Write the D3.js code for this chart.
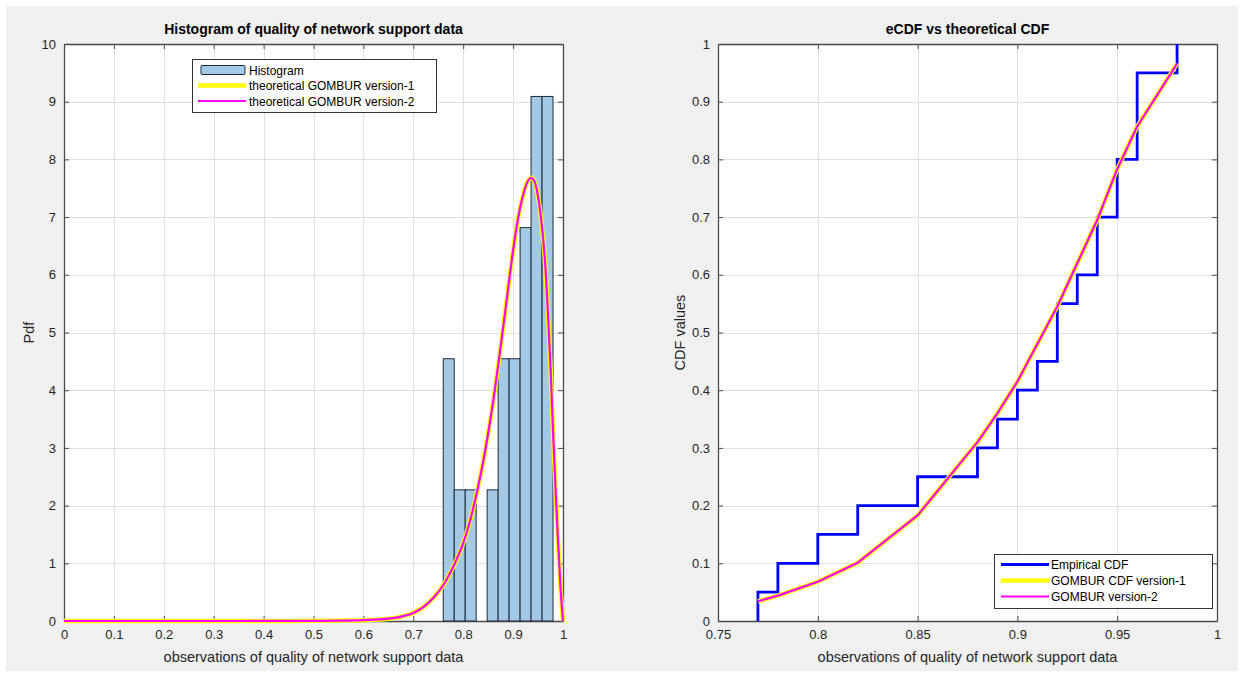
<!DOCTYPE html>
<html>
<head>
<meta charset="utf-8">
<script src="https://cdn.jsdelivr.net/npm/d3@7"></script>
<style>
  html, body { margin: 0; padding: 0; background: #ffffff; }
  svg { display: block; font-family: "Liberation Sans", Arial, Helvetica, sans-serif; }
</style>
</head>
<body>
<svg id="fig" width="1244" height="675"></svg>
<script>
// ---- Histogram panel data ----
const binEdges = [0.76, 0.782, 0.804, 0.826, 0.848, 0.87, 0.892, 0.914, 0.936, 0.958, 0.98];
const binDensity = [4.545, 2.273, 2.273, 0, 2.273, 4.545, 4.545, 6.818, 9.091, 9.091];

// fitted GOMBUR density, sampled along x
const pdfX = [0, 0.1, 0.2, 0.3, 0.4, 0.5, 0.55, 0.6, 0.65, 0.68, 0.7, 0.72, 0.74, 0.76, 0.77, 0.78, 0.79, 0.8,
              0.81, 0.82, 0.83, 0.84, 0.85, 0.86, 0.87, 0.88, 0.89, 0.9, 0.91, 0.92, 0.93, 0.937, 0.945,
              0.95, 0.955, 0.96, 0.965, 0.97, 0.975, 0.98, 0.985, 0.99, 0.995, 1.0];
const pdfY = [0, 0, 0, 0, 0.001, 0.003, 0.006, 0.015, 0.04, 0.085, 0.14, 0.24, 0.4, 0.62, 0.77, 0.94, 1.13, 1.35,
              1.62, 1.95, 2.33, 2.76, 3.25, 3.8, 4.42, 5.08, 5.76, 6.42, 6.98, 7.38, 7.63, 7.68, 7.56,
              7.36, 7.05, 6.65, 6.1, 5.3, 4.4, 3.3, 2.3, 1.4, 0.6, 0];

const pdfXTicks = [0, 0.1, 0.2, 0.3, 0.4, 0.5, 0.6, 0.7, 0.8, 0.9, 1];
const pdfYTicks = [0, 1, 2, 3, 4, 5, 6, 7, 8, 9, 10];

// ---- CDF panel data ----
const ecdfX = [0.77, 0.78, 0.80, 0.82, 0.85, 0.88, 0.89, 0.90, 0.91, 0.92, 0.93, 0.94, 0.95, 0.96, 0.98];
const ecdfY = [0.05, 0.10, 0.15, 0.20, 0.25, 0.30, 0.35, 0.40, 0.45, 0.55, 0.60, 0.70, 0.80, 0.95, 1.00];
const cdfY  = [0.034, 0.044, 0.068, 0.101, 0.183, 0.31, 0.36, 0.415, 0.48, 0.545, 0.62, 0.695, 0.783, 0.857, 0.966];

const cdfXTicks = [0.75, 0.8, 0.85, 0.9, 0.95, 1];
const cdfYTicks = [0, 0.1, 0.2, 0.3, 0.4, 0.5, 0.6, 0.7, 0.8, 0.9, 1];

const COLORS = {
  bg: "#f0f0f0", axis: "#4a4a4a", text: "#262626", grid: "#e0e0e0",
  barFill: "#a4c9e6", barEdge: "#1e2a36",
  yellow: "#ffff00", magenta: "#ff00ff", blue: "#0000ff"
};

const svg = d3.select("#fig");
svg.append("rect").attr("x", 6).attr("y", 6).attr("width", 1232).attr("height", 665).attr("fill", COLORS.bg);

function fmt(v) { return d3.format("~g")(+v.toFixed(4)); }

// draws axes box, grid, inward ticks on all sides, labels
function drawFrame(g, x, y, xTicks, yTicks, title, xLabel, yLabel, yLabelX) {
  const [x0, x1] = x.range(), [y0, y1] = y.range(); // y0 bottom, y1 top
  g.append("rect").attr("x", x0).attr("y", y1).attr("width", x1 - x0).attr("height", y0 - y1).attr("fill", "#fff");

  const grid = g.append("g").attr("stroke", COLORS.grid).attr("stroke-width", 1);
  xTicks.forEach(t => grid.append("line").attr("x1", Math.round(x(t)) + 0.5).attr("x2", Math.round(x(t)) + 0.5).attr("y1", y1).attr("y2", y0));
  yTicks.forEach(t => grid.append("line").attr("y1", Math.round(y(t)) + 0.5).attr("y2", Math.round(y(t)) + 0.5).attr("x1", x0).attr("x2", x1));

  const tl = 5;
  const axB = g.append("g").attr("transform", `translate(0,${y0})`)
    .call(d3.axisBottom(x).tickValues(xTicks).tickSizeInner(-tl).tickSizeOuter(0).tickPadding(9).tickFormat(fmt));
  const axT = g.append("g").attr("transform", `translate(0,${y1})`)
    .call(d3.axisTop(x).tickValues(xTicks).tickSizeInner(-tl).tickSizeOuter(0).tickFormat(""));
  const axL = g.append("g").attr("transform", `translate(${x0},0)`)
    .call(d3.axisLeft(y).tickValues(yTicks).tickSizeInner(-tl).tickSizeOuter(0).tickPadding(8).tickFormat(fmt));
  const axR = g.append("g").attr("transform", `translate(${x1},0)`)
    .call(d3.axisRight(y).tickValues(yTicks).tickSizeInner(-tl).tickSizeOuter(0).tickFormat(""));
  [axB, axT, axL, axR].forEach(a => {
    a.select(".domain").attr("stroke", COLORS.axis).attr("stroke-width", 1.3);
    a.selectAll(".tick line").attr("stroke", COLORS.axis);
    a.selectAll(".tick text").attr("fill", COLORS.text).attr("font-size", 13).attr("font-family", null);
  });

  g.append("text").attr("x", (x0 + x1) / 2).attr("y", y1 - 10).attr("text-anchor", "middle")
    .attr("font-size", 14).attr("font-weight", "bold").attr("fill", "#000").text(title);
  g.append("text").attr("x", (x0 + x1) / 2).attr("y", y0 + 41).attr("text-anchor", "middle")
    .attr("font-size", 14.5).attr("fill", COLORS.text).text(xLabel);
  g.append("text").attr("transform", `translate(${yLabelX},${(y0 + y1) / 2}) rotate(-90)`).attr("text-anchor", "middle")
    .attr("font-size", 14.5).attr("fill", COLORS.text).text(yLabel);
}

// ---------- Left: histogram + fitted densities ----------
{
  const x = d3.scaleLinear().domain([0, 1]).range([64, 563]);
  const y = d3.scaleLinear().domain([0, 10]).range([621, 44]);
  const g = svg.append("g");
  drawFrame(g, x, y, pdfXTicks, pdfYTicks, "Histogram of quality of network support data",
            "observations of quality of network support data", "Pdf", 34);

  const bins = binDensity.map((d, i) => ({ x0: binEdges[i], x1: binEdges[i + 1], v: d }));
  g.append("g").selectAll("rect").data(bins.filter(b => b.v > 0)).join("rect")
    .attr("x", b => x(b.x0)).attr("width", b => x(b.x1) - x(b.x0))
    .attr("y", b => y(b.v)).attr("height", b => y(0) - y(b.v))
    .attr("fill", COLORS.barFill).attr("stroke", COLORS.barEdge).attr("stroke-width", 1);

  const pts = pdfX.map((v, i) => [v, pdfY[i]]);
  const line = d3.line().x(d => x(d[0])).y(d => y(d[1])).curve(d3.curveMonotoneX);
  g.append("path").attr("d", line(pts)).attr("fill", "none").attr("stroke", COLORS.yellow).attr("stroke-width", 4.5).attr("stroke-linejoin", "round");
  g.append("path").attr("d", line(pts)).attr("fill", "none").attr("stroke", COLORS.magenta).attr("stroke-width", 2.2).attr("stroke-linejoin", "round");

  // legend
  const lg = g.append("g");
  lg.append("rect").attr("x", 192.5).attr("y", 59.5).attr("width", 244).attr("height", 53).attr("fill", "#fff").attr("stroke", "#333").attr("stroke-width", 1);
  lg.append("rect").attr("x", 201).attr("y", 65.5).attr("width", 44).attr("height", 9).attr("rx", 1)
    .attr("fill", COLORS.barFill).attr("stroke", COLORS.barEdge).attr("stroke-width", 1);
  lg.append("line").attr("x1", 198).attr("x2", 246).attr("y1", 85.5).attr("y2", 85.5).attr("stroke", COLORS.yellow).attr("stroke-width", 4.5);
  lg.append("line").attr("x1", 198).attr("x2", 246).attr("y1", 101).attr("y2", 101).attr("stroke", COLORS.magenta).attr("stroke-width", 2.2);
  const lt = ["Histogram", "theoretical GOMBUR version-1", "theoretical GOMBUR version-2"];
  lt.forEach((t, i) => lg.append("text").attr("x", 249).attr("y", 74.5 + i * 15.5).attr("font-size", 12).attr("fill", "#000").text(t));
}

// ---------- Right: empirical vs theoretical CDF ----------
{
  const x = d3.scaleLinear().domain([0.75, 1]).range([718, 1217]);
  const y = d3.scaleLinear().domain([0, 1]).range([621, 44]);
  const g = svg.append("g");
  drawFrame(g, x, y, cdfXTicks, cdfYTicks, "eCDF vs theoretical CDF",
            "observations of quality of network support data", "CDF values", 685);

  const stepPts = [[ecdfX[0], 0]].concat(ecdfX.map((v, i) => [v, ecdfY[i]]));
  const step = d3.line().x(d => x(d[0])).y(d => y(d[1])).curve(d3.curveStepAfter);
  g.append("path").attr("d", step(stepPts)).attr("fill", "none").attr("stroke", COLORS.blue).attr("stroke-width", 2.8);

  const cpts = ecdfX.map((v, i) => [v, cdfY[i]]);
  const line = d3.line().x(d => x(d[0])).y(d => y(d[1]));
  g.append("path").attr("d", line(cpts)).attr("fill", "none").attr("stroke", COLORS.yellow).attr("stroke-width", 4.5).attr("stroke-linejoin", "round");
  g.append("path").attr("d", line(cpts)).attr("fill", "none").attr("stroke", COLORS.magenta).attr("stroke-width", 2.2).attr("stroke-linejoin", "round");

  const lg = g.append("g");
  lg.append("rect").attr("x", 994.5).attr("y", 554.5).attr("width", 218).attr("height", 54).attr("fill", "#fff").attr("stroke", "#333").attr("stroke-width", 1);
  const items = [
    { t: "Empirical CDF", c: COLORS.blue, w: 2.8 },
    { t: "GOMBUR CDF version-1", c: COLORS.yellow, w: 4.5 },
    { t: "GOMBUR version-2", c: COLORS.magenta, w: 2.2 }
  ];
  items.forEach((d, i) => {
    const yy = 564.5 + i * 16;
    lg.append("line").attr("x1", 1001).attr("x2", 1049).attr("y1", yy).attr("y2", yy).attr("stroke", d.c).attr("stroke-width", d.w);
    lg.append("text").attr("x", 1051).attr("y", yy + 4.5).attr("font-size", 12).attr("fill", "#000").text(d.t);
  });
}
</script>
</body>
</html>
